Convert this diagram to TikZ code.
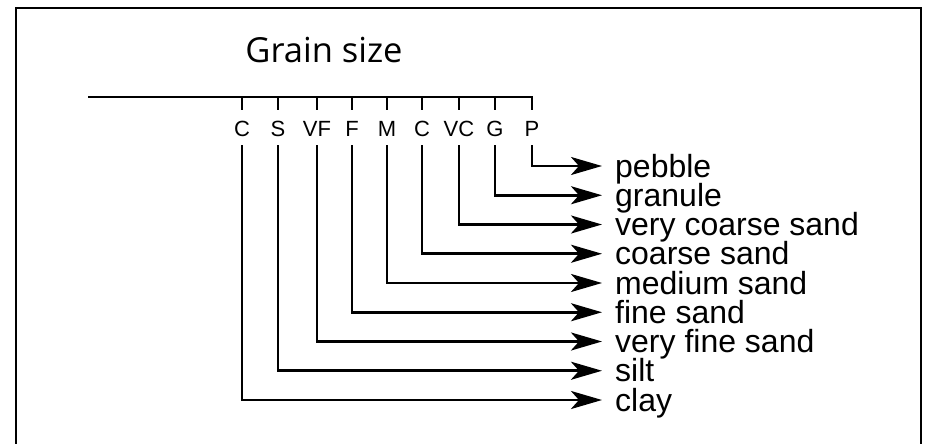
\documentclass[tikz,border=0pt]{standalone}
\usepackage{fontspec}
\setmainfont{Liberation Sans}
\newfontfamily\titlefont{Open Sans}
\usetikzlibrary{arrows.meta}
\begin{document}
\begin{tikzpicture}[x=1pt,y=-1pt,
  axisline/.style={line width=2.8pt},
  frameline/.style={line width=2.8pt},
  conn/.style={line width=2.8pt, -{Stealth[length=31pt,width=18pt,inset=8pt]}},
  toplab/.style={font=\fontsize{22}{22}\selectfont, inner sep=0pt, text height=15.5pt, text depth=0pt, anchor=base},
  sizelab/.style={font=\fontsize{32}{32}\selectfont, inner sep=0pt, text height=22pt, text depth=0pt, anchor=west},
  titlelab/.style={font=\titlefont\fontsize{34.5}{34.5}\selectfont, inner sep=0pt, anchor=base}
]
\useasboundingbox (0,0) rectangle (932,444);
\fill[white] (0,0) rectangle (932,444);
% frame (open at bottom)
\draw[frameline] (16,460) -- (16,8) -- (921,8) -- (921,460);
% title
\node[titlelab] (title) at (324,63) {Grain size};
% scale letters
\node[toplab] (lC)  at (242,136) {C};
\node[toplab] (lS)  at (278,136) {S};
\node[toplab] (lVF) at (317,136) {VF};
\node[toplab] (lF)  at (352,136) {F};
\node[toplab] (lM)  at (387,136) {M};
\node[toplab] (lCs) at (422,136) {C};
\node[toplab] (lVC) at (459,136) {VC};
\node[toplab] (lG)  at (495,136) {G};
\node[toplab] (lP)  at (532,136) {P};
% axis
\coordinate (axL) at (88,97);
\draw[axisline] (axL) -- (lP.north |- axL) -- ([yshift=10.5pt]lP.north);
\foreach \n in {lC,lS,lVF,lF,lM,lCs,lVC,lG}{
  \draw[axisline] (\n.north |- axL) -- ([yshift=10.5pt]\n.north);
}
% size class labels
\node[sizelab] (pebble)  at (615,166)    {pebble};
\node[sizelab] (granule) at (615,195.25) {granule};
\node[sizelab] (vcs)     at (615,224.5)  {very coarse sand};
\node[sizelab] (cs)      at (615,253.75) {coarse sand};
\node[sizelab] (ms)      at (615,283)    {medium sand};
\node[sizelab] (fs)      at (615,312.25) {fine sand};
\node[sizelab] (vfs)     at (615,341.5)  {very fine sand};
\node[sizelab] (silt)    at (615,370.75) {silt};
\node[sizelab] (clay)    at (615,400)    {clay};
% connectors
\foreach \a/\b in {lP/pebble,lG/granule,lVC/vcs,lCs/cs,lM/ms,lF/fs,lVF/vfs,lS/silt,lC/clay}{
  \draw[conn, shorten <=9pt] (\a.south) |- ([xshift=-13pt]\b.west);
}
\end{tikzpicture}
\end{document}
